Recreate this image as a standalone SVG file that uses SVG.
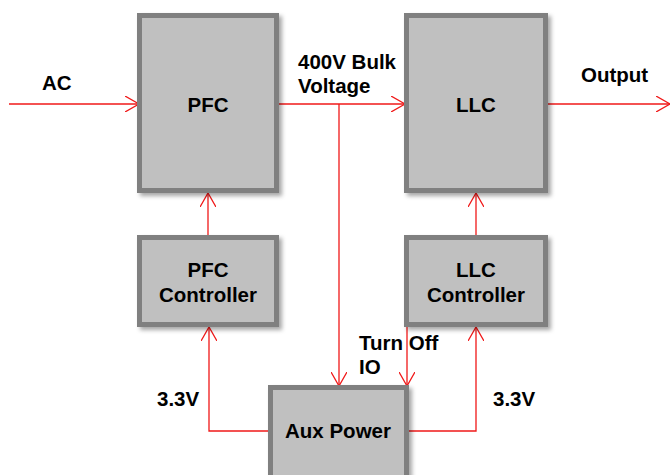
<svg xmlns="http://www.w3.org/2000/svg" width="670" height="475" viewBox="0 0 670 475">
<defs>
<filter id="sh" x="-10%" y="-10%" width="130%" height="130%">
<feDropShadow dx="3" dy="3" stdDeviation="2" flood-color="#000" flood-opacity="0.35"/>
</filter>
<marker id="arr" viewBox="0 0 14 16" refX="14" refY="8" markerWidth="14" markerHeight="16" markerUnits="userSpaceOnUse" orient="auto">
<path d="M0,0 L14,8 L0,16" fill="none" stroke="#f01818" stroke-width="1.3"/>
</marker>
<style>
.box{fill:#c0c0c0;stroke:#808080;stroke-width:5;filter:url(#sh)}
.t{font-family:"Liberation Sans",Arial,sans-serif;font-weight:bold;font-size:20.5px;fill:#000}
.c{text-anchor:middle}
.w{fill:none;stroke:#f01818;stroke-width:1.3}
</style>
</defs>
<rect width="670" height="475" fill="#fff"/>
<g id="connectors">
<path class="w" d="M9,104 H139" marker-end="url(#arr)"/>
<path class="w" d="M279,104 H405" marker-end="url(#arr)"/>
<path class="w" d="M548,104 H670" marker-end="url(#arr)"/>
<path class="w" d="M339,104 V386" marker-end="url(#arr)"/>
<path class="w" d="M208,235 V193" marker-end="url(#arr)"/>
<path class="w" d="M476,235 V193" marker-end="url(#arr)"/>
<path class="w" d="M268,431 H209 V327" marker-end="url(#arr)"/>
<path class="w" d="M409,431 H476 V327" marker-end="url(#arr)"/>
<path class="w" d="M407,327 V386" marker-end="url(#arr)"/>
</g>
<g id="pfc">
<rect class="box" x="139.5" y="15.5" width="137" height="175"/>
<text class="t c" x="208" y="112">PFC</text>
</g>
<g id="llc">
<rect class="box" x="406.5" y="15.5" width="139" height="175"/>
<text class="t c" x="476" y="112">LLC</text>
</g>
<g id="pfc-controller">
<rect class="box" x="139.5" y="237.5" width="137" height="87"/>
<text class="t c" x="208" y="277">PFC</text>
<text class="t c" x="208" y="302">Controller</text>
</g>
<g id="llc-controller">
<rect class="box" x="406.5" y="237.5" width="139" height="87"/>
<text class="t c" x="476" y="277">LLC</text>
<text class="t c" x="476" y="302">Controller</text>
</g>
<g id="aux-power">
<rect class="box" x="270.5" y="387.5" width="136" height="92"/>
<text class="t c" x="338" y="438">Aux Power</text>
</g>
<g id="labels">
<text class="t" x="42" y="90">AC</text>
<text class="t" x="298" y="69">400V Bulk</text>
<text class="t" x="298" y="93">Voltage</text>
<text class="t" x="581" y="82">Output</text>
<text class="t" x="359" y="350">Turn Off</text>
<text class="t" x="359" y="374">IO</text>
<text class="t" x="157" y="406">3.3V</text>
<text class="t" x="493" y="406">3.3V</text>
</g>
</svg>
